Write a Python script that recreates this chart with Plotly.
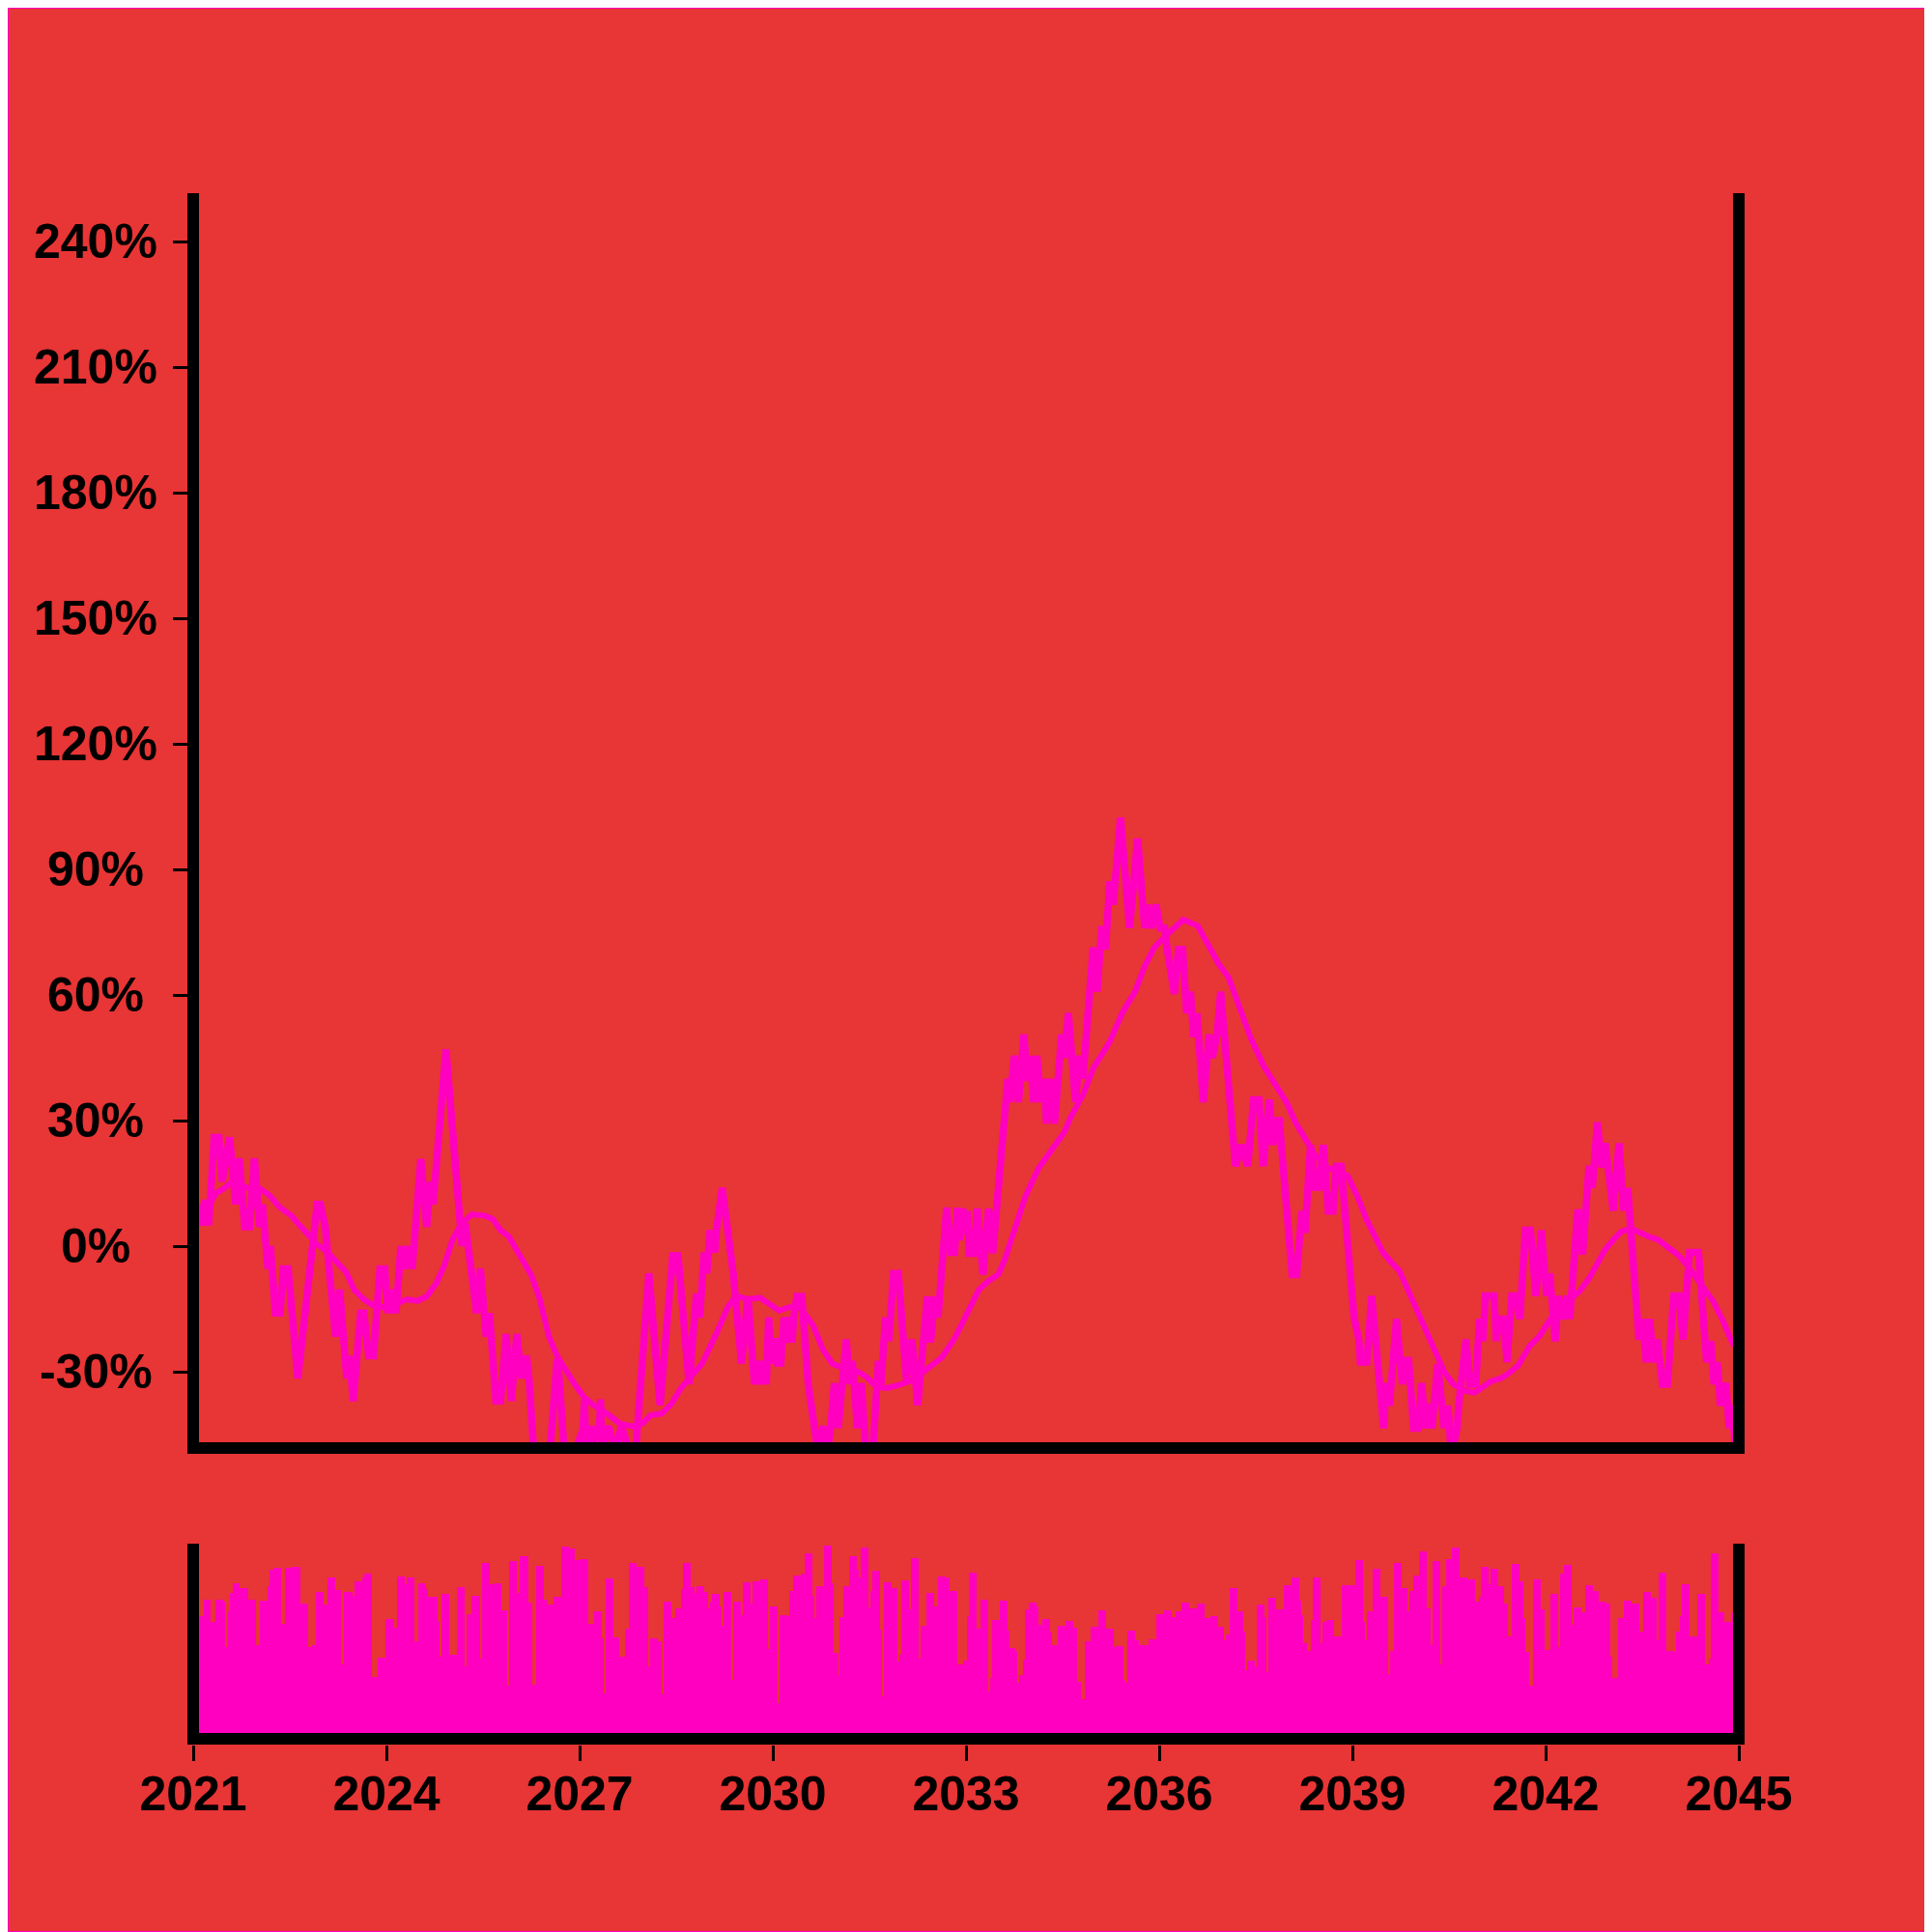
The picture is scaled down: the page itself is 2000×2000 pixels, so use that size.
import plotly.graph_objects as go

# ---------------- data ----------------
line_t = [2021.00, 2021.05, 2021.12, 2021.18, 2021.24, 2021.325, 2021.40, 2021.45, 2021.565, 2021.66,
          2021.715, 2021.80, 2021.875, 2021.95, 2022.035, 2022.075, 2022.16, 2022.20, 2022.275, 2022.35,
          2022.40, 2022.475, 2022.625, 2022.735, 2022.775, 2022.925, 2022.975, 2023.05, 2023.21, 2023.275,
          2023.385, 2023.425, 2023.485, 2023.60, 2023.65, 2023.725, 2023.80, 2023.90, 2023.975, 2024.025,
          2024.085, 2024.15, 2024.225, 2024.275, 2024.325, 2024.40, 2024.535, 2024.625, 2024.685, 2024.725,
          2024.925, 2025.175, 2025.225, 2025.275, 2025.40, 2025.46, 2025.55, 2025.60, 2025.70, 2025.775,
          2025.86, 2025.94, 2026.025, 2026.10, 2026.175, 2026.215, 2026.30, 2026.40, 2026.525, 2026.65,
          2026.685, 2026.775, 2026.95, 2027.05, 2027.075, 2027.10, 2027.15, 2027.20, 2027.25, 2027.30,
          2027.325, 2027.35, 2027.45, 2027.55, 2027.65, 2027.75, 2027.875, 2028.075, 2028.25, 2028.45,
          2028.49, 2028.525, 2028.70, 2028.815, 2028.865, 2028.935, 2028.975, 2029.025, 2029.10, 2029.125,
          2029.215, 2029.385, 2029.425, 2029.515, 2029.615, 2029.715, 2029.775, 2029.825, 2029.875, 2029.90,
          2029.935, 2029.985, 2030.04, 2030.075, 2030.125, 2030.175, 2030.22, 2030.27, 2030.30, 2030.325,
          2030.375, 2030.45, 2030.55, 2030.60, 2030.64, 2030.70, 2030.78, 2030.85, 2030.90, 2030.955,
          2031.015, 2031.14, 2031.20, 2031.235, 2031.315, 2031.375, 2031.45, 2031.55, 2031.64, 2031.68,
          2031.75, 2031.80, 2031.875, 2031.95, 2032.075, 2032.16, 2032.25, 2032.40, 2032.45, 2032.515,
          2032.565, 2032.70, 2032.765, 2032.825, 2032.865, 2032.90, 2032.95, 2032.985, 2033.025, 2033.05,
          2033.125, 2033.175, 2033.265, 2033.35, 2033.415, 2033.65, 2033.685, 2033.75, 2033.815, 2033.90,
          2033.95, 2034.00, 2034.05, 2034.10, 2034.165, 2034.215, 2034.25, 2034.315, 2034.375, 2034.485,
          2034.525, 2034.59, 2034.70, 2034.765, 2034.815, 2034.975, 2035.035, 2035.11, 2035.165, 2035.235,
          2035.285, 2035.40, 2035.54, 2035.665, 2035.775, 2035.815, 2035.875, 2035.95, 2036.015, 2036.085,
          2036.125, 2036.185, 2036.235, 2036.30, 2036.365, 2036.425, 2036.485, 2036.535, 2036.585, 2036.685,
          2036.775, 2036.825, 2036.90, 2036.955, 2037.185, 2037.275, 2037.375, 2037.465, 2037.55, 2037.615,
          2037.71, 2037.765, 2037.815, 2037.865, 2038.065, 2038.135, 2038.215, 2038.265, 2038.35, 2038.425,
          2038.485, 2038.55, 2038.625, 2038.70, 2038.75, 2038.825, 2039.025, 2039.10, 2039.125, 2039.225,
          2039.30, 2039.485, 2039.525, 2039.575, 2039.685, 2039.775, 2039.815, 2039.875, 2039.95, 2040.025,
          2040.075, 2040.135, 2040.185, 2040.235, 2040.325, 2040.425, 2040.485, 2040.535, 2040.625, 2040.65,
          2040.765, 2040.825, 2040.915, 2040.975, 2041.025, 2041.065, 2041.20, 2041.235, 2041.275, 2041.35,
          2041.40, 2041.475, 2041.55, 2041.60, 2041.685, 2041.765, 2041.85, 2041.935, 2042.015, 2042.065,
          2042.15, 2042.20, 2042.265, 2042.335, 2042.375, 2042.50, 2042.575, 2042.675, 2042.725, 2042.805,
          2042.875, 2042.925, 2042.965, 2043.05, 2043.14, 2043.215, 2043.275, 2043.45, 2043.50, 2043.565,
          2043.615, 2043.675, 2043.735, 2043.815, 2043.89, 2043.99, 2044.075, 2044.135, 2044.235, 2044.375,
          2044.50, 2044.565, 2044.615, 2044.665, 2044.715, 2044.80, 2044.85, 2044.885, 2044.95, 2045.00]
line_v = [2, 10, 5, 11, 5, 26, 26, 15.4, 26, 10,
          21, 4.6, 4.6, 21, 4.6, 10, -5.4, 0, -16, -16,
          -5.4, -5.4, -31.6, -16, -10.4, 10, 10, 4.6, -21.6, -10.4,
          -31.6, -26.2, -37, -16, -16, -26.2, -26.2, -5.4, -5.4, -16,
          -10.4, -16, 0, -5.4, 0, -5.4, 20.8, 4.6, 15.4, 10,
          47, 0, 5.4, 0, -16, -5.4, -21.6, -16, -37, -37,
          -21, -37, -21, -31.6, -26.2, -31.6, -52, -49, -52, -27,
          -32, -52, -48, -44, -36.6, -47, -43, -48, -43, -46,
          -36.6, -48, -43, -49, -43, -48, -48, -6.5, -38, -1.5,
          -6.5, -1.5, -33, -11.3, -17, -1.5, -6.5, 3.8, -1.5, 3.8,
          13.9, -6.5, -12, -28, -12, -33, -27.4, -33, -27.4, -33,
          -17, -28, -22, -28, -28, -17, -23, -17, -23, -17,
          -12, -12, -33, -38, -43, -49, -43, -49, -43, -32.7,
          -43.5, -22.3, -33, -27.4, -43.5, -32.7, -50, -50, -27.4, -33,
          -17, -22.7, -6.5, -6.5, -32, -22.3, -38, -12, -23, -12,
          -17, 9.2, -1.5, -1.5, 9.2, 1.4, 9, 3, 8.4, -1.7,
          -1.7, 9, -6.8, 9, -1.7, 40, 34.4, 45.5, 34.4, 50.6,
          39.5, 45.5, 34.4, 45.5, 34.4, 40, 29.3, 40, 29.3, 50.6,
          45, 55.7, 34.4, 45.5, 40, 71.4, 60.8, 76.5, 70.9, 87.2,
          81.6, 102.4, 76, 97.4, 76, 81.6, 76, 81.6, 76, 76,
          70.9, 65.9, 60.3, 70.9, 70.9, 55.7, 60.8, 50, 55.7, 34.4,
          50.6, 45, 50.6, 60.8, 19.1, 24.2, 19.1, 35, 35, 19.1,
          35, 24.2, 30, 30, -6.8, -6.8, 8.4, 3.2, 24.2, 14,
          14, 24.2, 8.4, 8.4, 19.1, 19.1, -16.9, -22.3, -27.7, -27.7,
          -11.9, -43.5, -32.7, -38.1, -17.4, -33, -27.3, -27.3, -43.5, -43.5,
          -32.7, -43.5, -37.7, -43.5, -28.2, -43.5, -38.1, -50, -43.5, -38,
          -22.3, -33, -33, -17.4, -22.7, -11.9, -11.9, -22.7, -17.4, -17.4,
          -27.7, -11.9, -11.9, -17.4, 3.8, 3.8, -11.9, 3.8, -11.9, -6.5,
          -22.7, -11.9, -17.4, -11.9, -17.4, 8.8, -2, 19.2, 13.9, 29.6,
          18.8, 24.6, 18.8, 8.5, 24.6, 8.5, 13.9, -22.3, -17.4, -27.7,
          -17.4, -27.7, -22.3, -33, -33, -11.9, -11.9, -22.3, -1.5, -1.5,
          -27.7, -22.7, -33, -27.7, -38.1, -32.7, -43.5, -38, -48, -50]

ma_t = [2021.00, 2021.10, 2021.225, 2021.35, 2021.475, 2021.575, 2021.725, 2021.875, 2022.025, 2022.175,
        2022.35, 2022.525, 2022.65, 2022.80, 2022.925, 2023.075, 2023.225, 2023.375, 2023.50, 2023.65,
        2023.80, 2023.975, 2024.125, 2024.325, 2024.475, 2024.625, 2024.775, 2024.90, 2025.025, 2025.15,
        2025.325, 2025.525, 2025.65, 2025.775, 2025.90, 2026.075, 2026.25, 2026.375, 2026.525, 2026.65,
        2026.80, 2026.925, 2027.075, 2027.225, 2027.425, 2027.625, 2027.825, 2027.975, 2028.10, 2028.275,
        2028.425, 2028.575, 2028.725, 2028.90, 2029.125, 2029.30, 2029.425, 2029.625, 2029.80, 2029.925,
        2030.10, 2030.25, 2030.425, 2030.625, 2030.775, 2030.925, 2031.125, 2031.325, 2031.45, 2031.60,
        2031.775, 2031.975, 2032.175, 2032.40, 2032.625, 2032.825, 2032.95, 2033.05, 2033.20, 2033.35,
        2033.50, 2033.60, 2033.75, 2033.925, 2034.125, 2034.375, 2034.525, 2034.625, 2034.825, 2034.975,
        2035.225, 2035.425, 2035.625, 2035.775, 2035.925, 2036.125, 2036.375, 2036.60, 2036.775, 2036.925,
        2037.075, 2037.225, 2037.425, 2037.625, 2037.80, 2037.975, 2038.125, 2038.275, 2038.425, 2038.625,
        2038.775, 2038.925, 2039.075, 2039.225, 2039.35, 2039.475, 2039.60, 2039.725, 2039.85, 2040.00,
        2040.125, 2040.275, 2040.425, 2040.575, 2040.75, 2040.90, 2041.025, 2041.15, 2041.30, 2041.425,
        2041.575, 2041.75, 2041.90, 2042.05, 2042.175, 2042.375, 2042.525, 2042.675, 2042.80, 2042.925,
        2043.05, 2043.175, 2043.325, 2043.475, 2043.60, 2043.75, 2043.925, 2044.075, 2044.20, 2044.325,
        2044.475, 2044.60, 2044.75, 2044.90, 2044.95]
ma_v = [4, 6, 9.2, 12.6, 13.8, 15, 14.6, 13.8, 13.8, 12.3,
        9.2, 7.3, 5, 2.3, 0.4, -1.2, -3.8, -6.2, -10.4, -12.7,
        -14.2, -14.6, -13.9, -12.7, -13.1, -12, -8.9, -4.6, 1.5, 5,
        7.6, 7.3, 6.5, 3.8, 2.3, -2.3, -6.9, -12.3, -21.6, -26.2,
        -30, -33, -36.2, -38.1, -40, -42.4, -43.1, -42.4, -40.4, -40,
        -37.7, -33.9, -31.2, -28.1, -20.8, -14.6, -11.9, -12.7, -12.3, -13.5,
        -15.4, -14.6, -14.6, -18.9, -24.6, -28.1, -29.3, -30, -31.2, -33.5,
        -33.9, -33.1, -32, -29.3, -26.6, -22, -18, -14.5, -10.4, -8.3,
        -6.8, -3.3, 3.9, 12, 18.6, 24.2, 27.2, 30.8, 36.4, 42.5,
        48.6, 55.7, 60.8, 66.9, 71.4, 74.5, 78.0, 76.5, 71.9, 67.4,
        64.3, 57.7, 49.6, 43, 39, 34.4, 29.3, 25.3, 21.7, 18.6,
        18.1, 16.8, 12, 6.2, 2.7, -1.5, -3.8, -5.8, -10, -15.4,
        -20, -25.4, -30, -33.1, -34.6, -35, -33.5, -32.3, -31.6, -30.4,
        -28.5, -23.9, -21.6, -17.7, -15, -12.7, -10.8, -7.7, -4.2, -0.8,
        1.5, 3.5, 4.2, 3.1, 2.3, 1.5, -0.4, -2.3, -4.6, -7.3,
        -10.8, -13.1, -17.7, -23.1, -24]

# bar steps: start time of each step and its height (end of last step = 2045)
bar_start = [2021.000, 2021.160, 2021.275, 2021.340, 2021.465, 2021.490, 2021.550, 2021.575, 2021.610, 2021.725,
             2021.850, 2021.975, 2022.035, 2022.150, 2022.185, 2022.250, 2022.360, 2022.425, 2022.525, 2022.660,
             2022.785, 2022.840, 2022.900, 2023.025, 2023.085, 2023.200, 2023.295, 2023.345, 2023.475, 2023.505,
             2023.625, 2023.655, 2023.775, 2023.865, 2023.985, 2024.125, 2024.165, 2024.285, 2024.315, 2024.435,
             2024.495, 2024.615, 2024.650, 2024.790, 2024.825, 2024.855, 2024.975, 2025.090, 2025.215, 2025.240,
             2025.325, 2025.450, 2025.485, 2025.605, 2025.665, 2025.785, 2025.875, 2025.905, 2026.025, 2026.075,
             2026.205, 2026.265, 2026.325, 2026.445, 2026.500, 2026.595, 2026.715, 2026.835,
             2026.925, 2027.015, 2027.135, 2027.225, 2027.350, 2027.380, 2027.405, 2027.525, 2027.615, 2027.705,
             2027.765, 2027.885, 2028.005, 2028.065, 2028.095, 2028.215, 2028.275, 2028.305, 2028.425, 2028.485,
             2028.575, 2028.605, 2028.725, 2028.785, 2028.815, 2028.935, 2028.995, 2029.025, 2029.055, 2029.175,
             2029.205, 2029.235, 2029.355, 2029.385, 2029.505, 2029.535, 2029.655, 2029.685, 2029.805, 2029.925,
             2029.955, 2030.075, 2030.105, 2030.225, 2030.255, 2030.315, 2030.435, 2030.495, 2030.615, 2030.645,
             2030.675, 2030.795, 2030.915, 2030.945, 2031.015, 2031.035, 2031.095, 2031.185, 2031.305, 2031.335,
             2031.365, 2031.485, 2031.515, 2031.545, 2031.665, 2031.695, 2031.725, 2031.845, 2031.935, 2031.965,
             2031.995, 2032.115, 2032.145, 2032.265, 2032.295, 2032.385, 2032.505, 2032.565, 2032.685, 2032.745,
             2032.865,
             2032.925, 2032.955, 2033.015, 2033.045, 2033.165, 2033.225, 2033.345, 2033.375, 2033.405, 2033.525,
             2033.645, 2033.675, 2033.765, 2033.795, 2033.825, 2033.885, 2033.915, 2033.975, 2034.095, 2034.125,
             2034.185, 2034.305, 2034.335, 2034.425, 2034.545, 2034.665, 2034.725, 2034.785, 2034.845, 2034.935,
             2035.055, 2035.175, 2035.295, 2035.325, 2035.445, 2035.475, 2035.505, 2035.625, 2035.685, 2035.835,
             2035.955, 2036.075, 2036.195, 2036.255, 2036.345, 2036.465, 2036.585, 2036.705, 2036.795, 2036.915,
             2037.005, 2037.035, 2037.095, 2037.215, 2037.305, 2037.335, 2037.365, 2037.485, 2037.515, 2037.635,
             2037.665, 2037.695, 2037.815, 2037.935, 2038.055, 2038.175, 2038.205, 2038.235, 2038.295, 2038.355,
             2038.385, 2038.505, 2038.535, 2038.595, 2038.715, 2038.835,
             2038.925, 2039.045, 2039.165, 2039.195, 2039.225, 2039.315, 2039.435, 2039.555, 2039.585, 2039.645,
             2039.765, 2039.855, 2039.885, 2039.945, 2040.035, 2040.155, 2040.215, 2040.245, 2040.365, 2040.395,
             2040.455, 2040.545, 2040.665, 2040.785, 2040.905, 2040.965, 2040.995, 2041.115, 2041.145, 2041.265,
             2041.355, 2041.415, 2041.475, 2041.595, 2041.655, 2041.685, 2041.745, 2041.805, 2041.925, 2041.985,
             2042.075, 2042.195, 2042.225, 2042.285, 2042.405, 2042.435, 2042.555, 2042.615, 2042.735, 2042.825,
             2042.945, 2043.005, 2043.035, 2043.125, 2043.215, 2043.335, 2043.455, 2043.515, 2043.635, 2043.725,
             2043.755, 2043.875, 2043.995, 2044.025, 2044.085, 2044.115, 2044.235, 2044.355, 2044.475, 2044.535,
             2044.565, 2044.685, 2044.775, 2044.895]
bar_end = 2045.0
bar_h = [63.7, 72.2, 60.3, 72.2, 70.8, 47.5, 65.8, 75.3, 80.5, 78,
         72.2, 48.3, 71.7, 79.2, 87.5, 88.3, 59.7, 88.7, 89, 70,
         47.5, 48.7, 76.2, 69.7, 83.7, 77, 38.3, 76.2, 74.2, 81.3,
         83.7, 85.5, 32.2, 42, 62, 57.5, 84.2, 80, 83.3, 50.3,
         80.3, 77.5, 73.3, 60.8, 42.5, 75, 43.3, 78.7, 37.5, 64.7,
         74.2, 41.7, 90.8, 80, 80.5, 66.3, 27.5, 92.2, 75.3, 94.3,
         70.3, 28, 89.7, 72, 69.7, 73.7, 99.3, 98.3,
         92.5, 93, 59.7, 66.2, 52, 23.3, 82.8, 52.5, 42.5, 57,
         91.2, 89.2, 78.3, 37.5, 52, 50.3, 22.8, 71.2, 62.5, 67.3,
         77.5, 91, 78.3, 75.3, 78.8, 75.8, 67.5, 70.8, 75, 68.3,
         58.3, 76, 30.5, 71, 64.2, 81.2, 70, 81.5, 82.5, 46.7,
         68.5, 18.3, 64.2, 63.3, 76.3, 84.5, 85.7, 96, 73.8, 62.5,
         79.2, 100, 80.5, 44.7, 33, 63, 78.8, 94.5, 87.5, 83.7,
         99, 68, 76.7, 87.2, 56.3, 22.2, 81.2, 78, 40, 43.3,
         82, 67.2, 93.5, 41.7, 58.3, 75.5, 68.7, 84.2, 83.3, 76.7,
         38.3,
         38.3, 40.3, 63.7, 86, 57.2, 72.2, 24.7, 31.7, 61.3, 71.3,
         56.2, 47.2, 45.5, 29.2, 33, 40.8, 67.2, 70.3, 68.3, 59.2,
         62, 55.3, 48.5, 58.7, 61, 57.3, 29.5, 20.5, 50.5, 58.2,
         66.3, 57.2, 47.5, 48, 30.5, 29.2, 56.2, 51, 48.5, 51.5,
         64.3, 66.5, 63.2, 66, 70.3, 67.3, 69.8, 62.3, 63.3, 57.8,
         50.8, 54.2, 78, 66, 55.5, 35.3, 40.5, 37.5, 69.5, 63,
         34.5, 73, 67, 79.7, 83.3, 71.5, 64, 49.5, 45.7, 61.7,
         83.3, 49.3, 60.3, 61.3, 53.2, 79.7,
         79.5, 92.3, 60.3, 50.8, 66.2, 87.8, 73.3, 33.3, 45.3, 91,
         78, 65.8, 76.7, 84.7, 97.2, 67.3, 48.3, 91.8, 38.3, 78.8,
         93, 99, 83.3, 82.5, 70.8, 73.3, 89, 80, 87.8, 78.8,
         70, 53, 90.3, 81.3, 62.5, 45, 27.5, 82.7, 67, 46,
         75, 47.3, 85.5, 90.2, 59.2, 68.2, 65.3, 79.3, 76.3, 71,
         70, 42.5, 31.3, 62.5, 71.5, 70, 55.3, 76.2, 73.2, 51.2,
         86, 45.7, 45, 55.7, 63.3, 80.2, 53.2, 75, 38.7, 41.3,
         96, 65.7, 60.3, 65.3]

y_tick_vals = [-30, 0, 30, 60, 90, 120, 150, 180, 210, 240]
y_tick_text = ["-30%", "0%", "30%", "60%", "90%", "120%", "150%", "180%", "210%", "240%"]
x_tick_vals = [2021, 2024, 2027, 2030, 2033, 2036, 2039, 2042, 2045]
x_tick_text = ["2021", "2024", "2027", "2030", "2033", "2036", "2039", "2042", "2045"]

# ---------------- style ----------------
W = 1992  # page body has an 8px margin; 1992 + 8 fills the 2000px window
BG = "#E83535"
MAG = "#FF00C0"
FONT = dict(family="Liberation Sans, Arial, sans-serif", size=50, color="black", weight="bold")
LW = 12            # axis line width
X0, X1 = 2021, 2045
PX_PER_YEAR = 1600 / (X1 - X0)
PAD_YEARS = (LW / 2) / PX_PER_YEAR   # axis lines sit centred on the first/last year


def px_x(p):   # absolute window px -> paper fraction
    return (p - 8) / W


def px_y(p):
    return 1 - (p - 8) / W


edges = bar_start + [bar_end]
bar_w = [edges[i + 1] - edges[i] for i in range(len(bar_start))]
bar_x = [bar_start[i] + bar_w[i] / 2 for i in range(len(bar_start))]

fig = go.Figure()
fig.add_trace(go.Bar(x=bar_x, y=bar_h, width=bar_w, marker=dict(color=MAG, line=dict(width=0)),
                     xaxis="x2", yaxis="y2", showlegend=False, hoverinfo="skip"))
fig.add_trace(go.Scatter(x=ma_t, y=ma_v, mode="lines", line=dict(color=MAG, width=6),
                         xaxis="x", yaxis="y", showlegend=False, hoverinfo="skip"))
fig.add_trace(go.Scatter(x=line_t, y=line_v, mode="lines", line=dict(color=MAG, width=7.5),
                         xaxis="x", yaxis="y", showlegend=False, hoverinfo="skip"))
# carrier for the year tick axis (no visible marks)
fig.add_trace(go.Scatter(x=[], y=[], mode="lines", xaxis="x3", yaxis="y2", showlegend=False,
                         hoverinfo="skip"))

annotations = [dict(text=t, x=px_x(99), xref="paper", xanchor="center", y=v, yref="y", yanchor="middle",
                    showarrow=False, font=FONT) for v, t in zip(y_tick_vals, y_tick_text)]

inner_range = [X0 + PAD_YEARS, X1 - PAD_YEARS]
fig.update_layout(
    width=W, height=W,
    margin=dict(l=0, r=0, t=0, b=0, autoexpand=False),
    paper_bgcolor=BG, plot_bgcolor="rgba(0,0,0,0)",
    bargap=0,
    showlegend=False,
    xaxis=dict(domain=[px_x(206), px_x(1794)], anchor="y", range=inner_range, showgrid=False, zeroline=False,
               showline=True, linecolor="black", linewidth=LW, ticks="", showticklabels=False, automargin=False),
    yaxis=dict(domain=[px_y(1493), px_y(200)], anchor="x", range=[-46.85, 251.6], showgrid=False,
               zeroline=False, showline=True, linecolor="black", linewidth=LW, mirror=True,
               tickmode="array", tickvals=y_tick_vals, showticklabels=False,
               ticks="outside", ticklen=15, tickwidth=3, tickcolor="black", automargin=False),
    xaxis2=dict(domain=[px_x(206), px_x(1794)], anchor="y2", range=inner_range, showgrid=False,
                zeroline=False, showline=True, linecolor="black", linewidth=LW,
                ticks="", showticklabels=False, automargin=False),
    yaxis2=dict(domain=[px_y(1794), px_y(1598)], anchor="x2", range=[3, 101], showgrid=False, zeroline=False,
                showline=True, linecolor="black", linewidth=LW, mirror=True,
                ticks="", showticklabels=False, automargin=False),
    xaxis3=dict(domain=[px_x(200), px_x(1800)], anchor="free", position=px_y(1806), range=[X0, X1],
                showgrid=False, zeroline=False, showline=False,
                tickmode="array", tickvals=x_tick_vals, ticktext=x_tick_text,
                ticks="outside", ticklen=16, tickwidth=3, tickcolor="black",
                tickfont=FONT, ticklabelstandoff=-9, automargin=False),
    annotations=annotations,
    shapes=[dict(type="rect", xref="paper", yref="paper", x0=0, y0=0, x1=1, y1=1,
                 line=dict(color=MAG, width=2), fillcolor="rgba(0,0,0,0)")],
)

fig.write_html("out.html")
